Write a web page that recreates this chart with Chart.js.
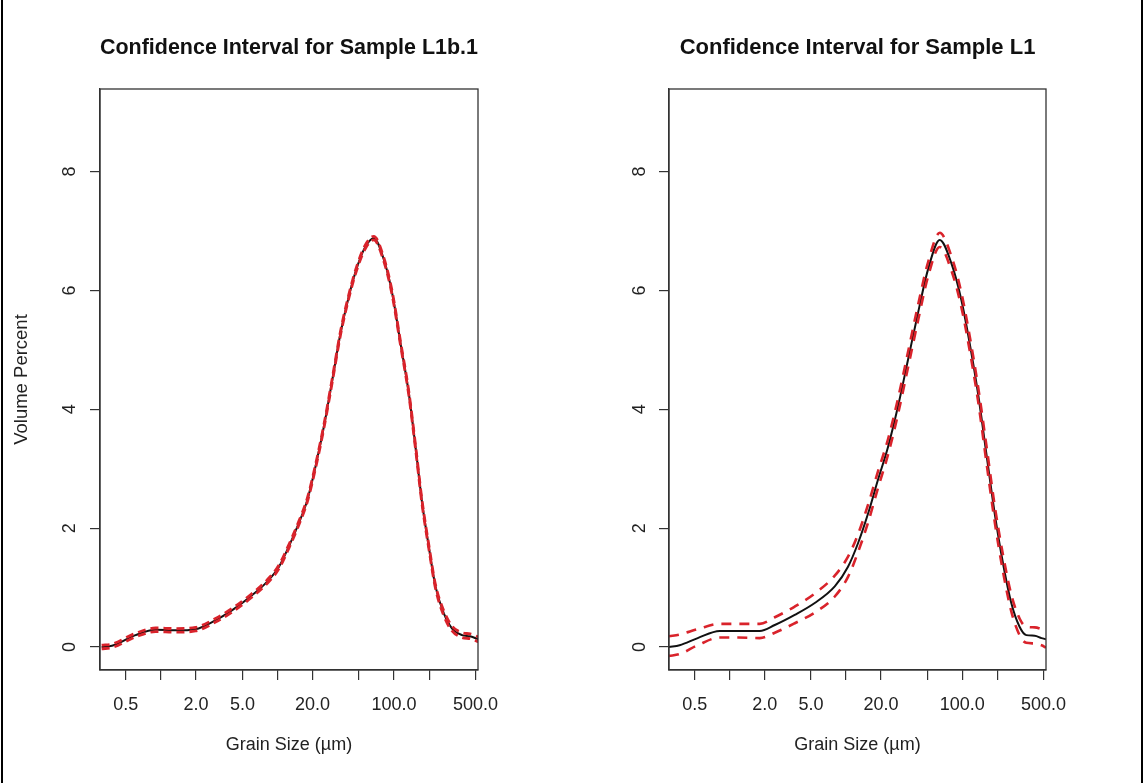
<!DOCTYPE html>
<html>
<head>
<meta charset="utf-8">
<title>Confidence Interval for Sample L1b.1 / L1</title>
<script src="https://cdn.jsdelivr.net/npm/chart.js@4.4.1/dist/chart.umd.min.js"></script>
<style>
  html, body { margin: 0; padding: 0; background: #fff; }
  body { position: relative; width: 1144px; height: 783px; overflow: hidden; }
  .panel { position: absolute; top: 0; width: 572px; height: 783px; }
  .edge { position: absolute; top: 0; width: 2px; height: 783px; background: #000; }
</style>
</head>
<body>
<div class="edge" style="left:1px"></div>
<div class="edge" style="left:1141px"></div>
<canvas id="panelL1b" class="panel" style="left:0" width="572" height="783"></canvas>
<canvas id="panelL1" class="panel" style="left:572px" width="572" height="783"></canvas>
<script>
// ---- Sample L1b.1: grain size (µm) and volume percent with its confidence band ----
const sizesL1b = [0.31, 0.38, 0.605, 0.90, 1.33, 1.98, 2.94, 4.09, 5.87, 8.16, 10.3, 12.5, 15.2, 18.0, 21.2, 25.0, 29.5, 34.7, 40.9, 48.3, 56.9, 67.0, 81.7, 96.4, 113.6, 133.8, 152.7, 174.2, 198.6, 226.6, 266.8, 314.9, 383.6, 450, 530];
const meanL1b  = [0.00, 0.02, 0.20, 0.29, 0.28, 0.30, 0.45, 0.62, 0.85, 1.10, 1.35, 1.69, 2.08, 2.47, 3.04, 3.71, 4.49, 5.28, 5.90, 6.40, 6.74, 6.88, 6.52, 5.95, 5.11, 4.27, 3.37, 2.42, 1.69, 1.02, 0.57, 0.31, 0.20, 0.18, 0.13];
const upperL1b = [0.03, 0.05, 0.23, 0.32, 0.31, 0.33, 0.48, 0.65, 0.88, 1.13, 1.38, 1.72, 2.11, 2.50, 3.07, 3.74, 4.52, 5.31, 5.93, 6.43, 6.77, 6.91, 6.55, 5.98, 5.14, 4.30, 3.40, 2.45, 1.72, 1.05, 0.61, 0.35, 0.24, 0.22, 0.17];
const lowerL1b = [-0.03, -0.01, 0.17, 0.26, 0.25, 0.27, 0.42, 0.59, 0.82, 1.07, 1.32, 1.66, 2.05, 2.44, 3.01, 3.68, 4.46, 5.25, 5.87, 6.37, 6.71, 6.85, 6.49, 5.92, 5.08, 4.24, 3.34, 2.39, 1.66, 0.99, 0.53, 0.27, 0.16, 0.14, 0.09];

// ---- Sample L1 ----
const sizesL1 = [0.30, 0.37, 0.53, 0.82, 1.18, 1.81, 2.44, 3.62, 5.38, 8.0, 10.4, 12.7, 15.5, 18.8, 23.0, 28.0, 34.1, 41.6, 50.7, 64.0, 80.5, 98.2, 115.8, 136.5, 161, 190, 224, 264, 311, 355, 420, 480, 525];
const meanL1  = [0.00, 0.03, 0.15, 0.27, 0.27, 0.27, 0.37, 0.54, 0.74, 1.02, 1.35, 1.75, 2.25, 2.81, 3.37, 4.05, 4.83, 5.62, 6.35, 6.85, 6.46, 5.84, 5.11, 4.27, 3.26, 2.25, 1.41, 0.74, 0.34, 0.20, 0.19, 0.15, 0.13];
const upperL1 = [0.18, 0.21, 0.30, 0.39, 0.39, 0.39, 0.50, 0.68, 0.90, 1.20, 1.52, 1.90, 2.40, 2.95, 3.50, 4.18, 4.96, 5.75, 6.47, 6.97, 6.58, 5.96, 5.23, 4.39, 3.40, 2.38, 1.55, 0.88, 0.48, 0.34, 0.33, 0.30, 0.27];
const lowerL1 = [-0.15, -0.12, 0.03, 0.16, 0.16, 0.15, 0.24, 0.40, 0.58, 0.85, 1.18, 1.60, 2.10, 2.67, 3.24, 3.92, 4.70, 5.49, 6.23, 6.73, 6.34, 5.72, 4.99, 4.15, 3.12, 2.11, 1.27, 0.60, 0.20, 0.07, 0.06, 0.03, -0.01];

// ---- axis ticks ----
const xTickValues = [0.5, 1, 2, 5, 10, 20, 50, 100, 200, 500];
const xTickLabels = ['0.5', '', '2.0', '5.0', '', '20.0', '', '100.0', '', '500.0'];
const yTickValues = [0, 2, 4, 6, 8];

const FONT = "'Liberation Sans', Arial, Helvetica, sans-serif";
const INK = '#222';
const AXIS = '#333';
const RED = '#d9232b';

function toPoints(xs, ys) {
  return xs.map((x, i) => ({ x: x, y: ys[i] }));
}

// Plot frame drawn around the whole plotting region
const plotFrame = {
  id: 'plotFrame',
  afterDraw(chart) {
    const a = chart.chartArea;
    const ctx = chart.ctx;
    ctx.save();
    ctx.strokeStyle = AXIS;
    ctx.lineWidth = 1.3;
    ctx.strokeRect(a.left, a.top, a.right - a.left, a.bottom - a.top);
    ctx.restore();
  }
};

function makePanel(canvasId, title, sizes, mean, upper, lower, cfg) {
  const lineStyle = { pointRadius: 0, cubicInterpolationMode: 'monotone', fill: false, clip: 0 };
  return new Chart(document.getElementById(canvasId), {
    type: 'line',
    data: {
      datasets: [
        Object.assign({ label: 'Mean', data: toPoints(sizes, mean), borderColor: '#111', borderWidth: 2, order: 2 }, lineStyle),
        Object.assign({ label: 'Upper', data: toPoints(sizes, upper), borderColor: RED, borderWidth: cfg.redWidth, borderDash: cfg.dash, order: 1 }, lineStyle),
        Object.assign({ label: 'Lower', data: toPoints(sizes, lower), borderColor: RED, borderWidth: cfg.redWidth, borderDash: cfg.dash, order: 1 }, lineStyle)
      ]
    },
    options: {
      responsive: false,
      animation: false,
      events: [],
      layout: { padding: { top: 0, left: 0, bottom: 0, right: cfg.padRight } },
      plugins: {
        legend: { display: false },
        tooltip: { enabled: false },
        title: {
          display: true,
          text: title,
          fullSize: false,
          color: '#111',
          font: { family: FONT, size: 22, weight: 'bold', lineHeight: 1.2 },
          padding: { top: 35, bottom: 27.6 }
        }
      },
      scales: {
        x: {
          type: 'logarithmic',
          position: 'bottom',
          min: 0.30,
          max: 525,
          afterBuildTicks: (s) => { s.ticks = xTickValues.map(v => ({ value: v })); },
          afterFit: (s) => { s.height = 113; },
          ticks: {
            autoSkip: false,
            minRotation: 0,
            maxRotation: 0,
            padding: 14,
            color: INK,
            font: { family: FONT, size: 18 },
            callback: (v, i) => xTickLabels[i]
          },
          grid: { drawOnChartArea: false, drawTicks: true, tickLength: 10, color: AXIS, lineWidth: 1.2 },
          border: { display: true, color: AXIS, width: 1.3 },
          title: {
            display: true,
            text: 'Grain Size (\u00b5m)',
            color: INK,
            font: { family: FONT, size: 18 },
            padding: { top: 0, bottom: 27 }
          }
        },
        y: {
          type: 'linear',
          position: 'left',
          min: -0.387,
          max: 9.39,
          afterBuildTicks: (s) => { s.ticks = yTickValues.map(v => ({ value: v })); },
          afterFit: (s) => { s.width = cfg.boxLeft; },
          ticks: {
            minRotation: 90,
            maxRotation: 90,
            crossAlign: 'center',
            padding: cfg.yTickPad,
            color: INK,
            font: { family: FONT, size: 18 },
            callback: (v) => String(v)
          },
          grid: { drawOnChartArea: false, drawTicks: true, tickLength: 10, color: AXIS, lineWidth: 1.2 },
          border: { display: true, color: AXIS, width: 1.3 },
          title: {
            display: cfg.yTitle,
            text: 'Volume Percent',
            color: INK,
            font: { family: FONT, size: 18.5 },
            padding: { top: 11, bottom: 0 }
          }
        }
      }
    },
    plugins: [plotFrame]
  });
}

makePanel('panelL1b', 'Confidence Interval for Sample L1b.1', sizesL1b, meanL1b, upperL1b, lowerL1b,
  { boxLeft: 100, padRight: 94, yTickPad: 15, yTitle: true, dash: [8, 5], redWidth: 2.8 });
makePanel('panelL1', 'Confidence Interval for Sample L1', sizesL1, meanL1, upperL1, lowerL1,
  { boxLeft: 97, padRight: 98, yTickPad: 14, yTitle: false, dash: [10, 8], redWidth: 2.6 });
</script>
</body>
</html>
